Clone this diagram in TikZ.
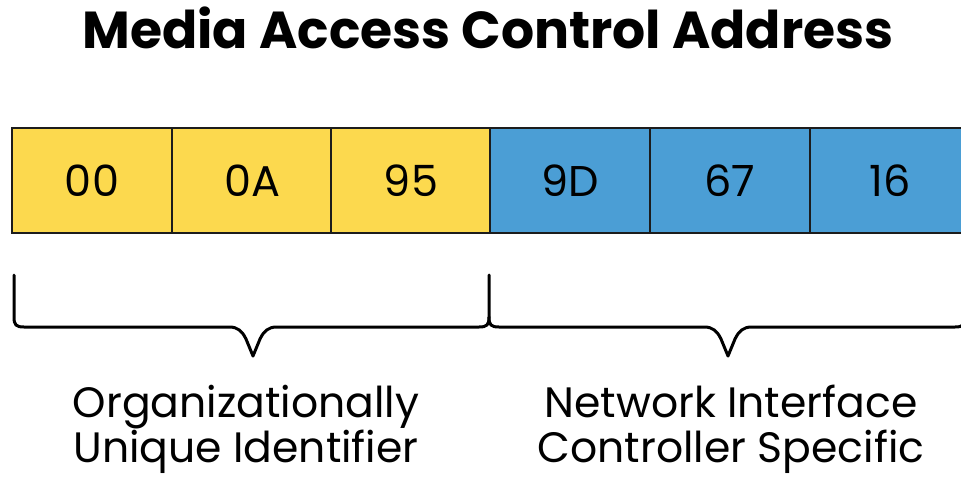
\documentclass[tikz,border=0pt]{standalone}
\usepackage{fontspec}
\setmainfont{Poppins}
\definecolor{ouiyellow}{HTML}{FCD94E}
\definecolor{nicblue}{HTML}{4B9ED5}
\definecolor{cellline}{HTML}{1C1C1C}
\begin{document}
\begin{tikzpicture}[x=1pt,y=-1pt,
  octet/.style={draw=cellline, line width=1.5pt, minimum width=160pt,
    minimum height=105pt, inner sep=0pt, font=\fontsize{43}{43}\selectfont},
  oui/.style={octet, fill=ouiyellow},
  nic/.style={octet, fill=nicblue},
  bracepath/.style={line width=3pt, line join=round, line cap=round},
  caption/.style={align=center, inner sep=0pt,
    font=\fontsize{42.5}{45}\selectfont}]
\useasboundingbox (0,0) rectangle (961,477);
\begin{scope}
\clip (0,0) rectangle (961,477);
% title
\node[anchor=base, inner sep=0pt, font=\fontsize{52}{52}\selectfont\bfseries]
  (title) at (488,48) {Media Access Control Address};
% the six octets
\node[oui] (o1) at (92,180.5) {00};
\node[oui] (o2) at (252,180.5) {0A};
\node[oui] (o3) at (411,180.5) {95};
\node[nic] (o4) at (570,180.5) {9D};
\node[nic] (o5) at (730,180.5) {67};
\node[nic] (o6) at (890,180.5) {16};
% braces under the two halves
\draw[bracepath] (14,275) -- (14,317)
  .. controls (14,325) and (16,327) .. (24,327) -- (229,327)
  .. controls (238,327) and (242,331) .. (246,339) -- (253,356) -- (260,339)
  .. controls (264,331) and (268,327) .. (277,327) -- (479,327)
  .. controls (487,327) and (489,325) .. (489,317) -- (489,275);
\draw[bracepath] (489,317)
  .. controls (489,325) and (491,327) .. (499,327) -- (704,327)
  .. controls (713,327) and (717,331) .. (721,339) -- (728,356) -- (735,339)
  .. controls (739,331) and (743,327) .. (752,327) -- (955,327)
  .. controls (963,327) and (965,325) .. (965,317) -- (965,275);
\end{scope}
% captions
\node[caption] (ouilabel) at (246,429) {Organizationally\\Unique Identifier};
\node[caption] (niclabel) at (731,429) {Network Interface\\Controller Specific};
\end{tikzpicture}
\end{document}
